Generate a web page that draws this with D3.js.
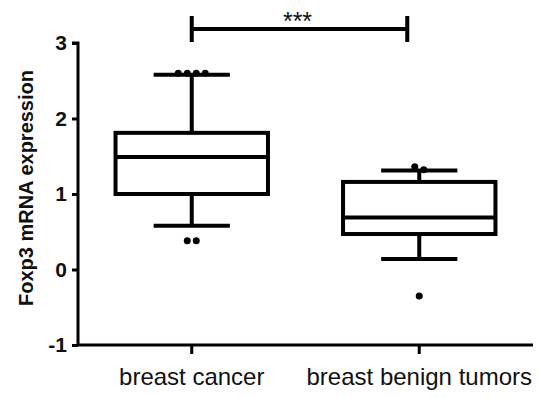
<!DOCTYPE html>
<html>
<head>
<meta charset="utf-8">
<script src="https://cdn.jsdelivr.net/npm/d3@7"></script>
<style>
  body { margin: 0; background: white; }
  text { font-family: "Liberation Sans", Arial, sans-serif; }
</style>
</head>
<body>
<div id="chart"></div>
<script>
var categories = ["breast cancer", "breast benign tumors"];
// box stats per group: [whiskerLow, q1, median, q3, whiskerHigh]
var boxStats = [
  [0.58, 1.0, 1.49, 1.81, 2.58],
  [0.14, 0.47, 0.69, 1.16, 1.31]
];
// outliers per group, stacked clusters get spread sideways
var outlierGroups = [
  [[2.6, 2.6, 2.6, 2.6], [0.38, 0.38]],
  [[1.36, 1.32], [-0.35]]
];
var yTicks = [-1, 0, 1, 2, 3];
var sigLabel = "***";

var width = 538, height = 398;
var svg = d3.select("#chart").append("svg")
  .attr("width", width)
  .attr("height", height);

var y = d3.scaleLinear().domain([-1, 3]).range([345, 43]);
var x = d3.scaleBand().domain(categories).range([78, 533]).padding(0);

var boxW = x.bandwidth() * 0.67;
var capW = boxW * 0.5;

// y axis
var yAxis = svg.append("g")
  .attr("transform", "translate(78,0)")
  .call(d3.axisLeft(y).tickValues(yTicks).tickSize(6).tickPadding(5).tickFormat(function(d) { return String(d); }));
yAxis.select(".domain").attr("stroke-width", 3).attr("d", "M-6," + y(3) + "H0V" + y(-1));
yAxis.selectAll(".tick line").attr("stroke-width", 3);
yAxis.selectAll(".tick text")
  .style("font-size", "21px").style("font-weight", "bold").attr("fill", "#111");

// x axis
var xAxis = svg.append("g")
  .attr("transform", "translate(0,345)")
  .call(d3.axisBottom(x).tickSize(9).tickPadding(14));
xAxis.select(".domain").attr("stroke-width", 3).attr("d", "M78,0H533");
xAxis.selectAll(".tick line").attr("stroke-width", 3);
xAxis.selectAll(".tick text")
  .style("font-size", "24px").attr("fill", "#111");

// boxes
var groups = svg.selectAll(".box")
  .data(boxStats)
  .enter().append("g")
  .attr("class", "box")
  .attr("transform", function(d, i) { return "translate(" + (x(categories[i]) + x.bandwidth() / 2) + ",0)"; });

groups.append("line")
  .attr("x1", 0).attr("x2", 0)
  .attr("y1", function(d) { return y(d[4]); })
  .attr("y2", function(d) { return y(d[3]); })
  .attr("stroke", "black").attr("stroke-width", 4);
groups.append("line")
  .attr("x1", 0).attr("x2", 0)
  .attr("y1", function(d) { return y(d[1]); })
  .attr("y2", function(d) { return y(d[0]); })
  .attr("stroke", "black").attr("stroke-width", 4);
groups.append("rect")
  .attr("x", -boxW / 2)
  .attr("width", boxW)
  .attr("y", function(d) { return y(d[3]); })
  .attr("height", function(d) { return y(d[1]) - y(d[3]); })
  .attr("fill", "white").attr("stroke", "black").attr("stroke-width", 4);
groups.append("line")
  .attr("x1", -boxW / 2).attr("x2", boxW / 2)
  .attr("y1", function(d) { return y(d[2]); })
  .attr("y2", function(d) { return y(d[2]); })
  .attr("stroke", "black").attr("stroke-width", 4);
[0, 4].forEach(function(k) {
  groups.append("line")
    .attr("x1", -capW / 2).attr("x2", capW / 2)
    .attr("y1", function(d) { return y(d[k]); })
    .attr("y2", function(d) { return y(d[k]); })
    .attr("stroke", "black").attr("stroke-width", 4);
});

groups.each(function(d, i) {
  var g = d3.select(this);
  outlierGroups[i].forEach(function(vals) {
    var n = vals.length;
    g.selectAll(null)
      .data(vals)
      .enter().append("circle")
      .attr("cx", function(v, j) { return (j - (n - 1) / 2) * 9; })
      .attr("cy", function(v) { return y(v); })
      .attr("r", 3.5)
      .attr("fill", "black");
  });
});

// significance bracket
var xa = x(categories[0]) + x.bandwidth() / 2;
var xb = x(categories[1]) + x.bandwidth() / 2 - 12;
var sig = svg.append("g");
sig.append("path")
  .attr("d", "M" + xa + ",16V42M" + xa + ",29H" + xb + "M" + xb + ",16V42")
  .attr("fill", "none").attr("stroke", "black").attr("stroke-width", 4);
sig.append("text")
  .attr("x", (xa + xb) / 2 - 2)
  .attr("y", 30)
  .attr("text-anchor", "middle")
  .style("font-size", "25px")
  .attr("fill", "#111")
  .text(sigLabel);

// y title
svg.append("text")
  .attr("transform", "translate(33,188) rotate(-90)")
  .attr("text-anchor", "middle")
  .style("font-size", "20px").style("font-weight", "bold")
  .attr("fill", "#111")
  .text("Foxp3 mRNA expression");
</script>
</body>
</html>
